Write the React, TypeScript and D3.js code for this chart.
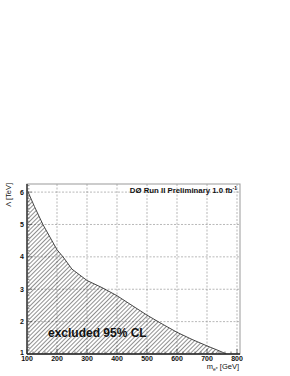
import React from 'react';
import * as d3 from 'd3';

// exclusion contour: m_e* [GeV] vs Lambda [TeV]
const massPoints = [100, 125, 153, 200, 220, 250, 300, 350, 400, 450, 500, 550, 600, 650, 700, 740, 765];
const lambdaPoints = [6.08, 5.55, 5.0, 4.22, 4.0, 3.62, 3.27, 3.05, 2.8, 2.5, 2.2, 1.93, 1.67, 1.45, 1.25, 1.1, 1.0];
const xTicks = [100, 200, 300, 400, 500, 600, 700, 800];
const yTicks = [1, 2, 3, 4, 5, 6];

const W = 290;
const H = 376;
const left = 27;
const right = 240;
const top = 184;
const bottom = 354;

export default function App() {
  const x = d3.scaleLinear().domain([100, 810]).range([left, right]);
  const y = d3.scaleLinear().domain([1, 6.25]).range([bottom, top]);

  const pts: [number, number][] = massPoints.map((m, i) => [m, lambdaPoints[i]]);
  const area = d3
    .area<[number, number]>()
    .x(d => x(d[0]))
    .y0(y(1))
    .y1(d => y(d[1]));
  const line = d3
    .line<[number, number]>()
    .x(d => x(d[0]))
    .y(d => y(d[1]));

  const xMinor = d3.range(100, 811, 20);
  const yMinor = d3.range(1, 6.25, 0.1);
  const font = 'Liberation Sans, Arial, sans-serif';

  return (
    <svg width={W} height={H} style={{ position: 'absolute', left: 0, top: 0 }} fontFamily={font}>
      <defs>
        <pattern id="hatch" width={3} height={3} patternUnits="userSpaceOnUse" patternTransform="rotate(45)">
          <line x1={0} y1={0} x2={0} y2={3} stroke="#222" strokeWidth={1} />
        </pattern>
        <clipPath id="frame">
          <rect x={left} y={top} width={right - left} height={bottom - top} />
        </clipPath>
      </defs>
      <rect width={W} height={H} fill="#fff" />

      {/* grid */}
      {xTicks.slice(1).map(t => (
        <line key={'gx' + t} x1={x(t)} x2={x(t)} y1={top} y2={bottom} stroke="#888" strokeWidth={0.6} strokeDasharray="2,1.5" />
      ))}
      {yTicks.slice(1).map(t => (
        <line key={'gy' + t} x1={left} x2={right} y1={y(t)} y2={y(t)} stroke="#888" strokeWidth={0.6} strokeDasharray="2,1.5" />
      ))}

      <g clipPath="url(#frame)">
        <path d={area(pts) || ''} fill="url(#hatch)" />
        <path d={line(pts) || ''} fill="none" stroke="#333" strokeWidth={0.9} />
      </g>

      {/* frame */}
      <rect x={left} y={top} width={right - left} height={bottom - top} fill="none" stroke="#999" strokeWidth={1} />
      <line x1={left} x2={left} y1={top} y2={bottom} stroke="#444" strokeWidth={1.6} />
      <line x1={left} x2={right} y1={bottom} y2={bottom} stroke="#222" strokeWidth={1.6} />

      {/* ticks */}
      {xMinor.map(t => (
        <line key={'xm' + t} x1={x(t)} x2={x(t)} y1={bottom} y2={bottom - (xTicks.includes(t) ? 5 : 2.5)} stroke="#333" strokeWidth={0.7} />
      ))}
      {yMinor.map((t, i) => (
        <line key={'ym' + i} x1={left} x2={left + (i % 10 === 0 ? 5 : 2.5)} y1={y(t)} y2={y(t)} stroke="#444" strokeWidth={0.6} />
      ))}

      {/* tick labels */}
      {xTicks.map(t => (
        <text key={'xl' + t} x={x(t)} y={bottom + 6.5} fontSize={7} fontWeight="bold" textAnchor="middle" fill="#111">
          {t}
        </text>
      ))}
      {yTicks.map(t => (
        <text key={'yl' + t} x={left - 3} y={y(t) + (t === 1 ? 1 : 2.5)} fontSize={7} fontWeight="bold" textAnchor="end" fill="#111">
          {t}
        </text>
      ))}

      {/* labels */}
      <text transform={`translate(10.5,${top - 1}) rotate(-90)`} fontSize={7.5} textAnchor="end" fill="#111">
        Λ [TeV]
      </text>
      <text x={right - 1} y={bottom + 15} fontSize={7.5} textAnchor="end" fill="#111">
        m<tspan fontSize={5} dy={2}>e*</tspan>
        <tspan dy={-2}> [GeV]</tspan>
      </text>
      <text x={right - 3} y={top + 9} fontSize={7.8} fontWeight="bold" textAnchor="end" fill="#111">
        DØ Run II Preliminary 1.0 fb<tspan fontSize={5} dy={-3}>-1</tspan>
      </text>
      <text x={48} y={337} fontSize={12} fontWeight="bold" fill="#111">
        excluded 95% CL
      </text>
    </svg>
  );
}
